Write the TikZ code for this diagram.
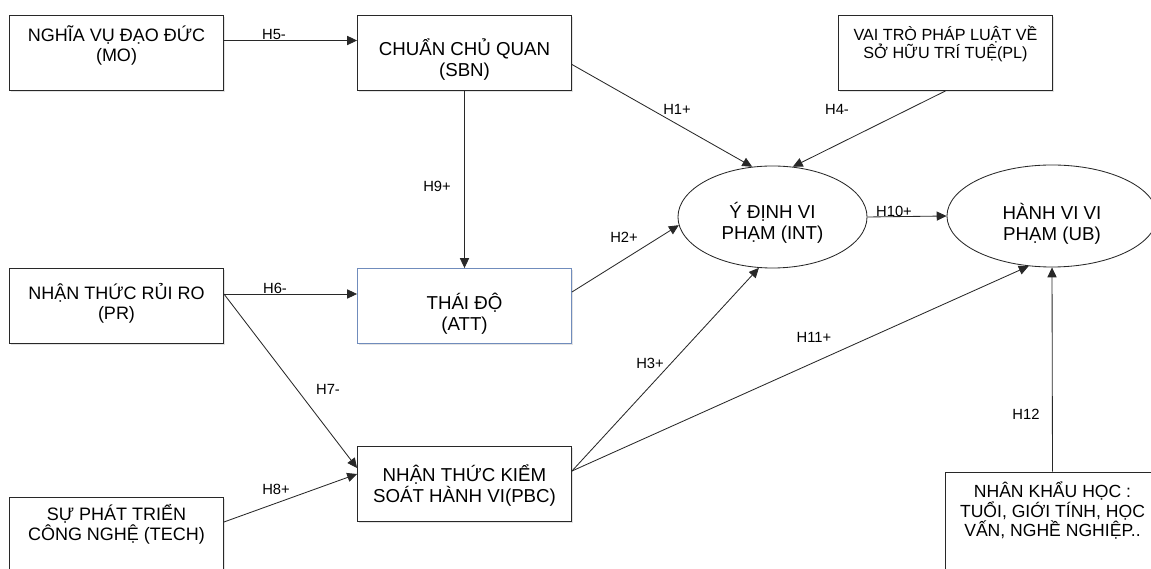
\documentclass[tikz,border=0pt]{standalone}
\usepackage{fontspec}
\setmainfont{Liberation Sans}
\usetikzlibrary{calc,shapes.geometric,arrows.meta,shadows}
\definecolor{bline}{RGB}{40,40,40}
\definecolor{attblue}{RGB}{112,140,188}

\begin{document}
\begin{tikzpicture}[x=0.025cm,y=-0.025cm,
  box/.style={draw=bline,line width=0.6pt,fill=white,minimum width=5.35cm,minimum height=1.875cm,inner sep=0pt,
    drop shadow={opacity=0.22,shadow xshift=0.9pt,shadow yshift=-1.3pt}},
  oval/.style={ellipse,draw=bline,line width=0.6pt,fill=white,inner sep=0pt},
  txt/.style={align=center,inner sep=0pt,font=\fontsize{12.8}{14.4}\selectfont},
  big/.style={txt,font=\fontsize{13.3}{15}\selectfont},
  small/.style={txt,font=\fontsize{11.5}{13}\selectfont},
  hyp/.style={inner sep=0pt,font=\fontsize{10.5}{12}\selectfont},
  arr/.style={draw=bline,line width=0.6pt,-{Triangle[length=7pt,width=6.5pt]}}]

\useasboundingbox (0,0) rectangle (1151,569);
\clip (0,0) rectangle (1151,569);

% ---- left column ----
\node[box] (mo) at (116.5,52.5) {};
\node[txt] (mo-t) at ($(mo.center)+(0,-7)$) {NGHĨA VỤ ĐẠO ĐỨC\\(MO)};
\node[box] (pr) at (116.5,306) {};
\node[txt] (pr-t) at ($(pr.center)+(0,-3)$) {NHẬN THỨC RỦI RO\\(PR)};
\node[box,minimum height=2cm] (tech) at (116.5,537) {};
\node[txt] (tech-t) at ($(tech.north)+(0,28)$) {SỰ PHÁT TRIỂN\\CÔNG NGHỆ (TECH)};

% ---- middle column ----
\node[box] (sbn) at (464.5,52.5) {};
\node[big] (sbn-t) at ($(sbn.center)+(0,7)$) {CHUẨN CHỦ QUAN\\(SBN)};
\node[box,draw=attblue] (att) at (464.5,306) {};
\node[big] (att-t) at ($(att.center)+(0,7.5)$) {THÁI ĐỘ\\(ATT)};
\node[box] (pbc) at (464.5,484) {};
\node[big] (pbc-t) at ($(pbc.center)+(0,2)$) {NHẬN THỨC KIỂM\\SOÁT HÀNH VI(PBC)};

% ---- right side ----
\node[box] (pl) at (945.5,53) {};
\node[small] (pl-t) at ($(pl.center)+(0,-9)$) {VAI TRÒ PHÁP LUẬT VỀ\\SỞ HỮU TRÍ TUỆ(PL)};
\node[oval,minimum width=4.725cm,minimum height=2.55cm] (int) at (772.5,217) {};
\node[big] (int-t) at ($(int.center)+(0,6)$) {Ý ĐỊNH VI\\PHẠM (INT)};
\node[oval,minimum width=5.25cm,minimum height=2.55cm] (ub) at (1052,216) {};
\node[big] (ub-t) at ($(ub.center)+(0,7.5)$) {HÀNH VI VI\\PHẠM (UB)};
\node[box,minimum height=2.75cm] (dem) at (1052.5,527) {};
\node[txt,font=\fontsize{12.5}{12.9}\selectfont] (dem-t) at ($(dem.north)+(0,39)$)
  {NHÂN KHẨU HỌC :\\TUỔI, GIỚI TÍNH, HỌC\\VẤN, NGHỀ NGHIỆP..};

% ---- hypotheses ----
\draw[arr] ($(sbn.east)+(0,12)$) -- (int.112);
\draw[arr] ($(att.east)+(0,-14)$) -- (int.185);
\draw[arr] ($(pbc.east)+(0,-13)$) -- (int.255);
\draw[arr] (pl.south) -- (int.68);
\draw[arr] ($(mo.east)+(0,-12)$) -- ($(sbn.west)+(0,-12)$);
\draw[arr] ($(pr.east)+(0,-12)$) -- ($(att.west)+(0,-12)$);
\draw[arr] ($(pr.east)+(0,-12)$) -- ($(pbc.west)+(0,-16)$);
\draw[arr] ($(tech.east)+(0,-15)$) -- ($(pbc.west)+(0,-10)$);
\draw[arr] (sbn.south) -- (att.north);
\draw[arr] (int.east) -- (ub.west);
\draw[arr] ($(pbc.east)+(0,-13)$) -- (ub.245);
\draw[arr] (dem.north) -- (ub.south);

\node[hyp] (h1) at (677,109) {H1+};
\node[hyp] (h2) at (624,237) {H2+};
\node[hyp] (h3) at (650,363) {H3+};
\node[hyp] (h4) at (837,109) {H4-};
\node[hyp] (h5) at (274,34) {H5-};
\node[hyp] (h6) at (275,288) {H6-};
\node[hyp] (h7) at (328,389) {H7-};
\node[hyp] (h8) at (276,489) {H8+};
\node[hyp] (h9) at (437,186) {H9+};
\node[hyp] (h10) at (894,211) {H10+};
\node[hyp] (h11) at (814,337) {H11+};
\node[hyp] (h12) at (1026,414) {H12};
\end{tikzpicture}
\end{document}
